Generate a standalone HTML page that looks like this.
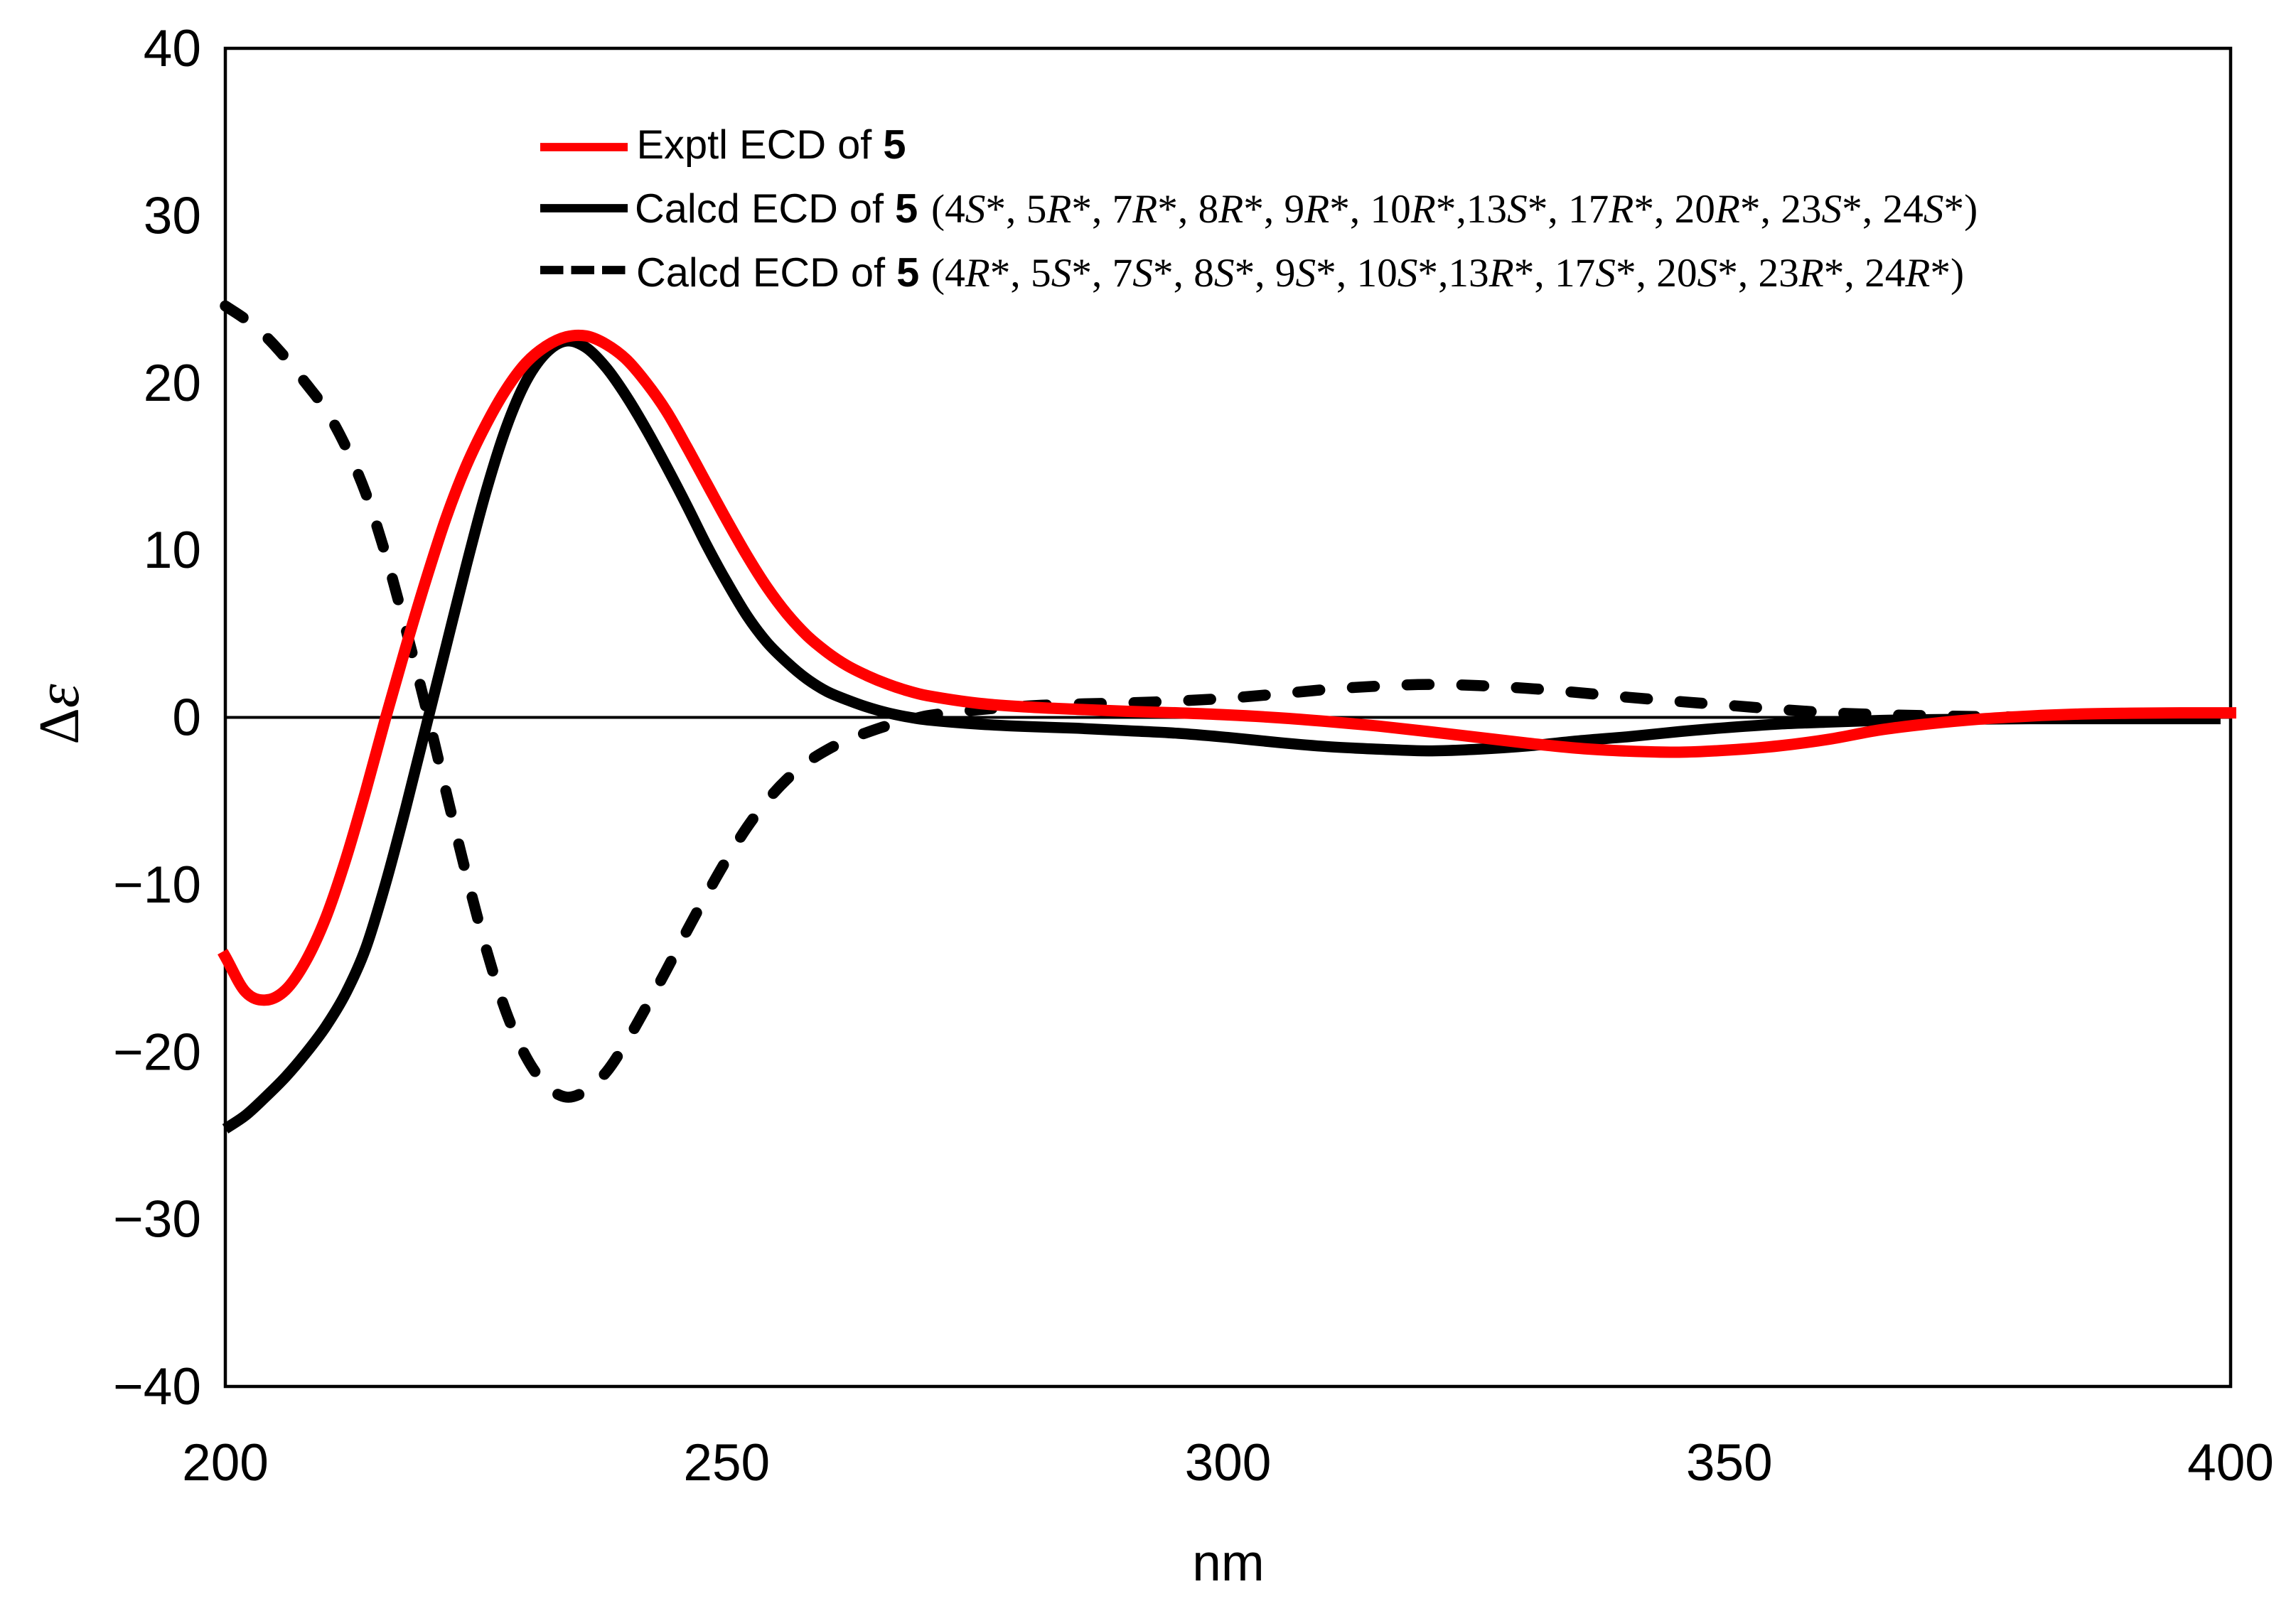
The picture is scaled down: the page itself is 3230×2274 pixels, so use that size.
<!DOCTYPE html>
<html lang="en">
<head>
<meta charset="utf-8">
<title>ECD spectra of compound 5</title>
<style>
html,body{margin:0;padding:0;background:#fff;}
svg{display:block;}
text{font-family:"Liberation Sans",sans-serif;fill:#000;}
.tick{font-size:73px;}
.leg{font-size:57.8px;}
.ser{font-family:"Liberation Serif",serif;font-size:57.3px;}
.ser .i{font-style:italic;}
.b{font-weight:bold;}
</style>
</head>
<body>
<svg id="chart" xmlns="http://www.w3.org/2000/svg" width="3230" height="2274" viewBox="0 0 3230 2274">
  <rect x="0" y="0" width="3230" height="2274" fill="#fff"/>
  <rect x="317" y="68" width="2821" height="1883" fill="none" stroke="#000" stroke-width="4.5"/>
  <g id="axes"></g>
  <g id="series"></g>

  <text class="tick" x="1728" y="2224" text-anchor="middle">nm</text>
  <text transform="translate(110,1005) rotate(-90)" text-anchor="middle" style="font-family:'Liberation Serif',serif"><tspan font-size="80">&#916;</tspan><tspan font-size="86" font-style="italic">&#949;</tspan></text>

  <g>
    <line x1="760" y1="207" x2="883" y2="207" stroke="#ff0000" stroke-width="11.7"/>
    <text class="leg" x="895.5" y="223">Exptl ECD of <tspan class="b">5</tspan></text>
    <line x1="760" y1="293" x2="883" y2="293" stroke="#000" stroke-width="11.7"/>
    <text class="leg" x="893" y="313">Calcd ECD of <tspan class="b">5</tspan></text>
    <text class="ser" x="1310" y="313">(4<tspan class="i">S</tspan>*, 5<tspan class="i">R</tspan>*, 7<tspan class="i">R</tspan>*, 8<tspan class="i">R</tspan>*, 9<tspan class="i">R</tspan>*, 10<tspan class="i">R</tspan>*,13<tspan class="i">S</tspan>*, 17<tspan class="i">R</tspan>*, 20<tspan class="i">R</tspan>*, 23<tspan class="i">S</tspan>*, 24<tspan class="i">S</tspan>*)</text>
    <line x1="760" y1="380" x2="880" y2="380" stroke="#000" stroke-width="11.7" stroke-dasharray="32.5 11"/>
    <text class="leg" x="895" y="403">Calcd ECD of <tspan class="b">5</tspan></text>
    <text class="ser" x="1310" y="403">(4<tspan class="i">R</tspan>*, 5<tspan class="i">S</tspan>*, 7<tspan class="i">S</tspan>*, 8<tspan class="i">S</tspan>*, 9<tspan class="i">S</tspan>*, 10<tspan class="i">S</tspan>*,13<tspan class="i">R</tspan>*, 17<tspan class="i">S</tspan>*, 20<tspan class="i">S</tspan>*, 23<tspan class="i">R</tspan>*, 24<tspan class="i">R</tspan>*)</text>
  </g>
</svg>
<script>
const wavelengths = [200,202,204,206,208,210,212,214,216,218,220,222,224,226,228,230,232,234,236,238,240,242,244,246,248,250,252,254,256,258,260,262,264,266,268,270,275,280,285,290,295,300,305,310,315,320,325,330,335,340,345,350,355,360,365,370,375,380,385,390,395,399];
const exptlValues = [-14.3,-16.4,-16.9,-16.3,-14.6,-12.0,-8.5,-4.4,0,4.2,8.2,11.9,15.0,17.5,19.6,21.2,22.2,22.75,22.8,22.3,21.4,20.0,18.3,16.2,14.0,11.8,9.7,7.8,6.2,4.9,3.9,3.1,2.5,2.0,1.6,1.3,0.85,0.62,0.48,0.36,0.27,0.15,-0.02,-0.25,-0.52,-0.85,-1.2,-1.55,-1.85,-2.02,-2.08,-1.95,-1.7,-1.3,-0.75,-0.38,-0.1,0.08,0.2,0.25,0.27,0.27];
const calcdSolidValues = [-24.6,-23.8,-22.7,-21.5,-20.1,-18.5,-16.5,-13.8,-9.9,-5.4,-0.6,4.2,9.0,13.5,17.3,20.1,21.8,22.5,22.1,20.9,19.2,17.2,15.0,12.7,10.3,8.1,6.1,4.5,3.3,2.3,1.55,1.05,0.62,0.28,0.03,-0.15,-0.4,-0.55,-0.65,-0.8,-0.95,-1.2,-1.5,-1.75,-1.9,-2.0,-1.9,-1.7,-1.4,-1.15,-0.85,-0.6,-0.4,-0.28,-0.18,-0.13,-0.1,-0.08,-0.08,-0.08,-0.08,-0.08];
const calcdDashedValues = [24.6,23.8,22.8,21.5,20.0,18.4,16.2,13.4,9.7,5.3,0.6,-4.4,-9.3,-13.8,-17.6,-20.3,-22.0,-22.7,-22.3,-21.2,-19.4,-17.3,-15.1,-12.8,-10.6,-8.5,-6.6,-5.0,-3.7,-2.7,-1.95,-1.35,-0.9,-0.5,-0.2,0.1,0.45,0.68,0.8,0.87,0.98,1.15,1.4,1.68,1.87,1.97,1.9,1.73,1.48,1.2,0.95,0.72,0.48,0.28,0.17,0.1,0.05,0.02,0,0,0,0];
const xTickValues = [200,250,300,350,400];
const yTickValues = [40,30,20,10,0,-10,-20,-30,-40];

const SVG_NS = 'http://www.w3.org/2000/svg';
function xScale(nm){ return 317 + (nm - 200) * (3138 - 317) / 200; }
function yScale(v){ return 1009.5 - v * (1951 - 68) / 80; }
function tickText(v){ return v < 0 ? '\u2212' + Math.abs(v) : String(v); }

const axes = document.getElementById('axes');
const seriesGroup = document.getElementById('series');

const zeroLine = document.createElementNS(SVG_NS, 'line');


zeroLine.setAttribute('x1', xScale(200));
zeroLine.setAttribute('x2', xScale(400));
zeroLine.setAttribute('y1', yScale(0));
zeroLine.setAttribute('y2', yScale(0));
zeroLine.setAttribute('stroke', '#000');
zeroLine.setAttribute('stroke-width', '4');
axes.appendChild(zeroLine);

xTickValues.forEach(function(v){
  const t = document.createElementNS(SVG_NS, 'text');
  
  
  t.setAttribute('class', 'tick');
  t.setAttribute('x', xScale(v));
  t.setAttribute('y', 2083);
  t.setAttribute('text-anchor', 'middle');
  t.textContent = tickText(v);
  axes.appendChild(t);
});

yTickValues.forEach(function(v){
  const t = document.createElementNS(SVG_NS, 'text');
  
  
  t.setAttribute('class', 'tick');
  t.setAttribute('x', 283);
  t.setAttribute('y', yScale(v) + 25);
  t.setAttribute('text-anchor', 'end');
  t.textContent = tickText(v);
  axes.appendChild(t);
});

function smoothPath(xs, ys){
  const px = xs.map(xScale);
  const py = ys.map(yScale);
  const n = px.length;
  const slope = [];
  for (let i = 0; i < n; i++) {
    const a = Math.max(0, i - 1);
    const b = Math.min(n - 1, i + 1);
    slope.push((py[b] - py[a]) / (px[b] - px[a]));
  }
  let d = 'M' + px[0].toFixed(1) + ' ' + py[0].toFixed(1);
  for (let i = 0; i < n - 1; i++) {
    const h = (px[i + 1] - px[i]) / 3;
    d += 'C' + (px[i] + h).toFixed(1) + ' ' + (py[i] + slope[i] * h).toFixed(1) + ' ' +
         (px[i + 1] - h).toFixed(1) + ' ' + (py[i + 1] - slope[i + 1] * h).toFixed(1) + ' ' +
         px[i + 1].toFixed(1) + ' ' + py[i + 1].toFixed(1);
  }
  return d;
}

const dashedPath = document.createElementNS(SVG_NS, 'path');


dashedPath.setAttribute('d', smoothPath(wavelengths, calcdDashedValues));
dashedPath.setAttribute('fill', 'none');
dashedPath.setAttribute('stroke', '#000');
dashedPath.setAttribute('stroke-width', '15.5');
dashedPath.setAttribute('stroke-linecap', 'round');
dashedPath.setAttribute('stroke-dasharray', '31 46');
dashedPath.setAttribute('stroke-dashoffset', '1');
seriesGroup.appendChild(dashedPath);

const solidPath = document.createElementNS(SVG_NS, 'path');


solidPath.setAttribute('d', smoothPath(wavelengths, calcdSolidValues));
solidPath.setAttribute('fill', 'none');
solidPath.setAttribute('stroke', '#000');
solidPath.setAttribute('stroke-width', '15.5');
solidPath.setAttribute('stroke-linejoin', 'round');
seriesGroup.appendChild(solidPath);

const exptlWavelengths = wavelengths.concat([400]);
const exptlAllValues = exptlValues.concat([0.27]);
const exptlPath = document.createElementNS(SVG_NS, 'path');


exptlPath.setAttribute('d', smoothPath(exptlWavelengths, exptlAllValues));
exptlPath.setAttribute('fill', 'none');
exptlPath.setAttribute('stroke', '#ff0000');
exptlPath.setAttribute('stroke-width', '16');
exptlPath.setAttribute('stroke-linecap', 'square');
exptlPath.setAttribute('stroke-linejoin', 'round');
seriesGroup.appendChild(exptlPath);
</script>
</body>
</html>
